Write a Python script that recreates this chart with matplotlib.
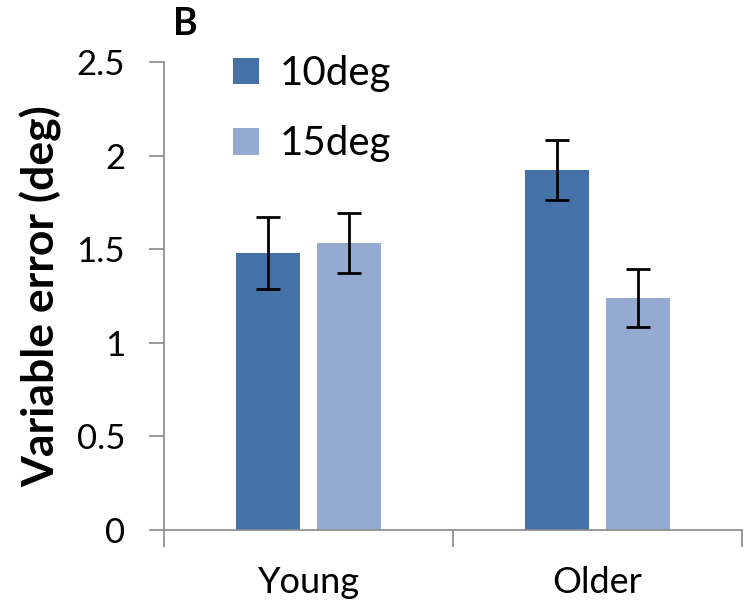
import matplotlib.pyplot as plt
import numpy as np

groups = ['Young', 'Older']
series = ['10deg', '15deg']
mean_10 = [1.48, 1.925]
mean_15 = [1.535, 1.24]
err_10 = [0.19, 0.16]
err_15 = [0.16, 0.155]
colors = ['#4472a8', '#95aad1']

plt.rcParams['font.family'] = ['Lato', 'DejaVu Sans']

fig = plt.figure(figsize=(7.46, 6.12), dpi=100)
ax = fig.add_axes([164 / 746, 82 / 612, 578 / 746, 468 / 612])

x = np.arange(len(groups))
w = 0.223
off = 0.141
for i, (vals, errs) in enumerate([(mean_10, err_10), (mean_15, err_15)]):
    ax.bar(x + (2 * i - 1) * off, vals, w, color=colors[i], label=series[i],
           yerr=errs, capsize=8.5, error_kw=dict(elinewidth=2, capthick=2, ecolor='black'))

ax.set_xlim(-0.5, 1.5)
ax.set_ylim(0, 2.5)
ax.set_yticks([0, 0.5, 1, 1.5, 2, 2.5])
ax.set_yticklabels(['0', '0.5', '1', '1.5', '2', '2.5'], fontsize=25)
ax.set_xticks([-0.5, 0.5, 1.5], minor=False)
ax.set_xticklabels([])
ax.set_xticks(x, minor=True)
ax.set_xticklabels(groups, minor=True, fontsize=26)
ax.tick_params(axis='x', which='minor', length=0, pad=26)
ax.tick_params(axis='x', which='major', length=12, color='#888888', width=1.2)
ax.tick_params(axis='y', length=11, color='#888888', width=1.2, pad=17)
for s in ['top', 'right']:
    ax.spines[s].set_visible(False)
for s in ['left', 'bottom']:
    ax.spines[s].set_color('#888888')
    ax.spines[s].set_linewidth(1.2)

ax.set_ylabel('Variable error (deg)', fontsize=32, fontweight='bold', labelpad=10)
ax.legend(loc='upper left', bbox_to_anchor=(0.057, 1.092), frameon=False, fontsize=29,
          handlelength=0.65, handleheight=0.65, labelspacing=0.82, handletextpad=0.5)
fig.text(173 / 746, 1 - 24 / 612, 'B', fontsize=27, fontweight='bold', va='center')

fig.savefig('out.png', dpi=100)
